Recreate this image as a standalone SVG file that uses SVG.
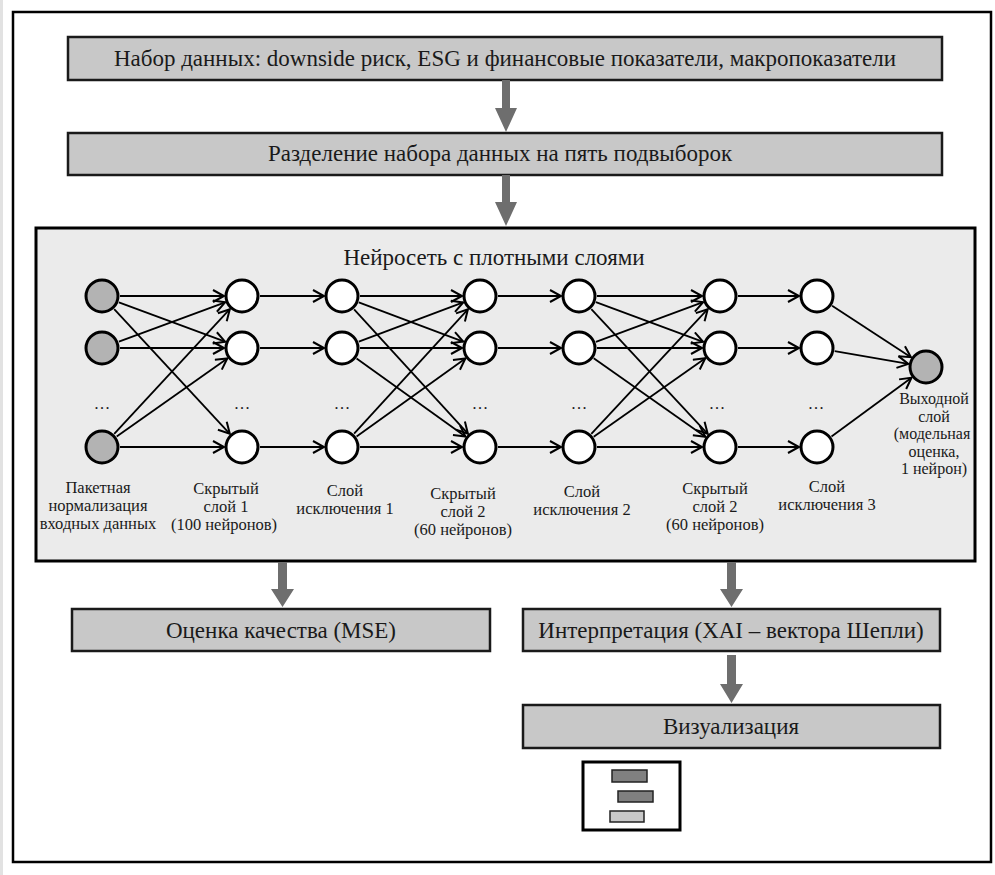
<svg xmlns="http://www.w3.org/2000/svg" width="995" height="875" viewBox="0 0 995 875">
<style>
.t{font-family:"Liberation Serif","Times New Roman",serif;fill:#1a1a1a;}
.big{font-size:23px;}
.lbl{font-size:16.5px;}
.olbl{font-size:16px;}
.box{fill:#c8c8c8;stroke:#1a1a1a;stroke-width:2.5;}
.ar{fill:#6e6e6e;}
.n{fill:#fff;stroke:#000;stroke-width:3;}
.ng{fill:#b3b3b3;stroke:#000;stroke-width:3;}
.c{stroke:#000;stroke-width:1.8;fill:none;marker-end:url(#ah);}
</style>
<defs>
<marker id="ah" markerUnits="userSpaceOnUse" markerWidth="16" markerHeight="16" refX="12" refY="7" orient="auto">
<path d="M1,1 L12,7 L1,13" fill="none" stroke="#000" stroke-width="2"/>
</marker>
</defs>
<rect x="0" y="0" width="995" height="875" fill="#fff"/>
<rect x="0" y="0" width="3" height="875" fill="#e2e2e2"/>
<rect x="13" y="12" width="978" height="850" fill="none" stroke="#000" stroke-width="2.5"/>

<g id="dataset">
<rect class="box" x="68" y="37" width="874" height="43"/>
<text class="t big" x="505" y="66" text-anchor="middle">Набор данных: downside риск, ESG и финансовые показатели, макропоказатели</text>
</g>
<g id="split">
<rect class="box" x="68" y="133" width="874" height="42"/>
<text class="t big" x="500" y="161" text-anchor="middle">Разделение набора данных на пять подвыборок</text>
</g>

<g id="nn">
<rect x="36" y="228" width="939" height="333" fill="#ebebeb" stroke="#000" stroke-width="3"/>
<text class="t big" x="494" y="265" text-anchor="middle">Нейросеть с плотными слоями</text>
</g>

<g id="connectors">
<!-- big flow arrows -->
<polygon class="ar" points="502,80 510,80 510,108 517,108 506,132 495,108 502,108"/>
<polygon class="ar" points="502,175 510,175 510,202 517,202 506,226 495,202 502,202"/>
<polygon class="ar" points="278,562 287,562 287,589 294,589 282.5,607 271,589 278,589"/>
<polygon class="ar" points="727,562 736,562 736,589 743,589 731.5,607 720,589 727,589"/>
<polygon class="ar" points="727,655 736,655 736,684 743,684 731.5,703 720,684 727,684"/>
<!-- group A -->
<path class="c" d="M120,296 L224,296"/>
<path class="c" d="M120,348 L224,348"/>
<path class="c" d="M120,447 L224,447"/>
<path class="c" d="M118.9,302.3 L225.1,341.7"/>
<path class="c" d="M114.2,309.2 L229.8,433.8"/>
<path class="c" d="M118.9,341.7 L225.1,302.3"/>
<path class="c" d="M114.2,433.8 L229.8,309.2"/>
<path class="c" d="M116.7,436.6 L227.3,358.4"/>
<!-- col2 -> col3 -->
<path class="c" d="M260,296 L324,296"/>
<path class="c" d="M260,348 L324,348"/>
<path class="c" d="M260,447 L324,447"/>
<!-- group B -->
<path class="c" d="M360,296 L462,296"/>
<path class="c" d="M360,348 L462,348"/>
<path class="c" d="M360,447 L462,447"/>
<path class="c" d="M358.8,302.4 L463.2,341.6"/>
<path class="c" d="M354.1,309.3 L467.9,433.7"/>
<path class="c" d="M358.8,341.6 L463.2,302.4"/>
<path class="c" d="M356.6,358.5 L465.4,436.5"/>
<path class="c" d="M354.1,433.7 L467.9,309.3"/>
<path class="c" d="M356.6,436.5 L465.4,358.5"/>
<!-- col4 -> col5 -->
<path class="c" d="M498,296 L561,296"/>
<path class="c" d="M498,348 L561,348"/>
<path class="c" d="M498,447 L561,447"/>
<!-- group C -->
<path class="c" d="M597,296 L702,296"/>
<path class="c" d="M597,348 L702,348"/>
<path class="c" d="M597,447 L702,447"/>
<path class="c" d="M595.9,302.2 L703.1,341.8"/>
<path class="c" d="M591.3,309.2 L707.7,433.8"/>
<path class="c" d="M595.9,341.8 L703.1,302.2"/>
<path class="c" d="M593.7,358.3 L705.3,436.7"/>
<path class="c" d="M591.3,433.8 L707.7,309.2"/>
<path class="c" d="M593.7,436.7 L705.3,358.3"/>
<!-- col6 -> col7 -->
<path class="c" d="M738,296 L799,296"/>
<path class="c" d="M738,348 L799,348"/>
<path class="c" d="M738,447 L799,447"/>
<!-- col7 -> output -->
<path class="c" d="M832.1,305.8 L910.9,357.2"/>
<path class="c" d="M834.7,351.1 L908.3,363.9"/>
<path class="c" d="M831.5,436.4 L911.5,377.7"/>
</g>

<g id="layer-input">
<circle class="ng" cx="102" cy="296" r="16"/>
<circle class="ng" cx="102" cy="348" r="16"/>
<circle class="ng" cx="102" cy="447" r="16"/>
<text class="t lbl" x="102" y="409" text-anchor="middle">…</text>
<text class="t lbl" text-anchor="middle"><tspan x="98" y="493">Пакетная</tspan><tspan x="98" y="511">нормализация</tspan><tspan x="98" y="529">входных данных</tspan></text>
</g>
<g id="layer-hidden1">
<circle class="n" cx="242" cy="296" r="16"/>
<circle class="n" cx="242" cy="348" r="16"/>
<circle class="n" cx="242" cy="447" r="16"/>
<text class="t lbl" x="242" y="409" text-anchor="middle">…</text>
<text class="t lbl" text-anchor="middle"><tspan x="226" y="494">Скрытый</tspan><tspan x="226" y="512">слой 1</tspan><tspan x="224" y="530">(100 нейронов)</tspan></text>
</g>
<g id="layer-dropout1">
<circle class="n" cx="342" cy="296" r="16"/>
<circle class="n" cx="342" cy="348" r="16"/>
<circle class="n" cx="342" cy="447" r="16"/>
<text class="t lbl" x="342" y="409" text-anchor="middle">…</text>
<text class="t lbl" text-anchor="middle"><tspan x="345" y="496">Слой</tspan><tspan x="345" y="514">исключения 1</tspan></text>
</g>
<g id="layer-hidden2a">
<circle class="n" cx="480" cy="296" r="16"/>
<circle class="n" cx="480" cy="348" r="16"/>
<circle class="n" cx="480" cy="447" r="16"/>
<text class="t lbl" x="480" y="409" text-anchor="middle">…</text>
<text class="t lbl" text-anchor="middle"><tspan x="463" y="499">Скрытый</tspan><tspan x="463" y="517">слой 2</tspan><tspan x="463" y="535">(60 нейронов)</tspan></text>
</g>
<g id="layer-dropout2">
<circle class="n" cx="579" cy="296" r="16"/>
<circle class="n" cx="579" cy="348" r="16"/>
<circle class="n" cx="579" cy="447" r="16"/>
<text class="t lbl" x="579" y="409" text-anchor="middle">…</text>
<text class="t lbl" text-anchor="middle"><tspan x="582" y="497">Слой</tspan><tspan x="582" y="515">исключения 2</tspan></text>
</g>
<g id="layer-hidden2b">
<circle class="n" cx="720" cy="296" r="16"/>
<circle class="n" cx="720" cy="348" r="16"/>
<circle class="n" cx="720" cy="447" r="16"/>
<text class="t lbl" x="717" y="409" text-anchor="middle">…</text>
<text class="t lbl" text-anchor="middle"><tspan x="715" y="494">Скрытый</tspan><tspan x="715" y="512">слой 2</tspan><tspan x="715" y="530">(60 нейронов)</tspan></text>
</g>
<g id="layer-dropout3">
<circle class="n" cx="817" cy="296" r="16"/>
<circle class="n" cx="817" cy="348" r="16"/>
<circle class="n" cx="817" cy="447" r="16"/>
<text class="t lbl" x="816" y="409" text-anchor="middle">…</text>
<text class="t lbl" text-anchor="middle"><tspan x="827" y="492">Слой</tspan><tspan x="827" y="510">исключения 3</tspan></text>
</g>
<g id="layer-output">
<circle class="ng" cx="926" cy="367" r="16"/>
<text class="t olbl" text-anchor="middle"><tspan x="934" y="404">Выходной</tspan><tspan x="934" y="421.6">слой</tspan><tspan x="932" y="439.2">(модельная</tspan><tspan x="934" y="456.8">оценка,</tspan><tspan x="934" y="474.4">1 нейрон)</tspan></text>
</g>

<g id="quality">
<rect class="box" x="72" y="609" width="418" height="42"/>
<text class="t big" x="281" y="638" text-anchor="middle">Оценка качества (MSE)</text>
</g>
<g id="interpretation">
<rect class="box" x="523" y="609" width="417" height="42"/>
<text class="t big" x="731" y="638" text-anchor="middle">Интерпретация (XAI – вектора Шепли)</text>
</g>
<g id="visualization">
<rect class="box" x="523" y="705" width="417" height="43"/>
<text class="t big" x="731" y="734" text-anchor="middle">Визуализация</text>
</g>
<g id="viz-icon">
<rect x="583" y="762" width="97" height="68" fill="#fff" stroke="#000" stroke-width="3"/>
<rect x="612" y="770" width="35" height="12" fill="#808080" stroke="#222" stroke-width="1.5"/>
<rect x="618" y="791" width="35" height="11" fill="#808080" stroke="#222" stroke-width="1.5"/>
<rect x="610" y="811" width="34" height="11" fill="#c8c8c8" stroke="#222" stroke-width="1.5"/>
</g>
</svg>
